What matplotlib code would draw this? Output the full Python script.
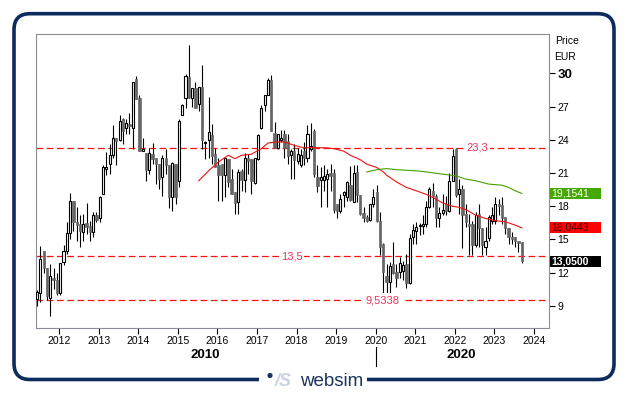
import matplotlib
matplotlib.use("Agg")
import matplotlib.pyplot as plt
import matplotlib.patches as mpatches
import matplotlib.transforms as mtransforms
from matplotlib.lines import Line2D
import numpy as np
import pandas as pd

plt.rcParams['font.family'] = ['Liberation Sans', 'DejaVu Sans']

# ---------------- data (monthly candles, EUR) ----------------
first_month = "2011-06"

opens = [
    9.6, 10.2, 14.0, 12.4, 9.7, 11.5, 11.3, 10.2, 13.0, 14.0, 15.6, 18.5,
    16.6, 16.4, 15.7, 16.5, 16.2, 15.7, 17.2, 16.9, 19.1, 21.4, 21.8, 22.6,
    24.2, 24.0, 25.9, 25.1, 25.4, 25.1, 29.5, 27.8, 23.0, 22.8, 21.3, 22.7,
    22.4, 21.8, 20.6, 22.4, 21.7, 18.8, 21.8, 20.3, 26.2, 27.8, 29.7, 27.8,
    28.7, 27.2, 28.8, 23.7, 24.0, 24.4, 22.7, 21.7, 21.8, 20.8, 22.3, 20.5,
    19.3, 18.4, 21.2, 20.4, 22.4, 22.3, 20.1, 22.3, 25.1, 27.1, 28.0, 29.4,
    24.6, 23.3, 24.0, 24.5, 23.9, 22.6, 23.0, 22.1, 21.7, 23.0, 22.4, 23.2,
    24.8, 20.6, 20.4, 20.4, 20.5, 21.0, 21.0, 18.2, 17.6, 19.0, 18.8, 19.9,
    18.4, 21.1, 19.0, 17.4, 17.0, 16.8, 18.2, 19.3, 16.7, 14.6, 11.7, 11.2,
    12.8, 12.1, 12.1, 12.2, 12.8, 11.1, 15.2, 15.8, 16.2, 16.2, 16.4, 17.9,
    19.4, 18.9, 16.9, 17.4, 18.2, 17.6, 20.3, 23.2, 19.1, 19.6, 17.3, 16.4,
    16.4, 14.5, 17.3, 16.0, 14.3, 15.1, 16.7, 16.7, 18.2, 18.1, 17.0, 16.0,
    15.2, 15.2, 14.9, 14.8]

highs = [
    10.4, 14.4, 14.0, 12.4, 12.8, 12.4, 12.0, 12.9, 14.5, 16.6, 19.2, 18.5,
    17.9, 17.2, 17.3, 18.3, 16.7, 17.5, 17.5, 18.9, 21.7, 22.9, 23.6, 25.3,
    24.2, 26.2, 26.0, 25.9, 26.4, 29.2, 29.8, 28.0, 24.2, 22.8, 23.3, 23.7,
    22.4, 21.8, 22.6, 23.2, 21.7, 22.0, 21.8, 25.9, 27.2, 29.9, 32.55, 28.7,
    29.2, 28.8, 30.75, 23.9, 27.9, 25.4, 23.3, 22.4, 21.8, 22.4, 22.3, 21.4,
    19.3, 21.4, 21.4, 22.8, 22.7, 22.3, 22.4, 24.5, 27.1, 28.0, 29.6, 29.85,
    25.6, 24.5, 24.9, 24.9, 24.5, 23.2, 23.6, 23.3, 23.2, 23.8, 25.3, 25.5,
    25.0, 21.7, 21.5, 21.7, 21.4, 21.8, 21.4, 18.2, 19.1, 19.4, 20.3, 21.6,
    21.7, 21.7, 19.0, 17.9, 17.2, 18.2, 19.6, 19.9, 17.5, 14.7, 12.8, 13.0,
    14.8, 12.8, 13.4, 13.1, 13.7, 15.5, 16.4, 16.6, 16.5, 17.2, 18.5, 19.7,
    20.1, 19.1, 17.9, 19.1, 18.9, 21.0, 23.2, 23.3, 20.5, 19.9, 18.2, 17.3,
    16.7, 17.5, 18.2, 16.0, 16.1, 17.2, 17.9, 18.8, 18.7, 18.8, 17.0, 16.0,
    15.7, 15.2, 14.9, 14.8]

lows = [
    9.0, 9.4, 12.0, 9.5, 8.1, 10.5, 10.0, 10.0, 12.7, 13.7, 15.0, 15.8,
    14.9, 14.3, 14.9, 15.5, 14.9, 15.2, 16.6, 16.6, 19.1, 20.8, 20.9, 22.4,
    21.7, 23.9, 23.6, 24.5, 24.5, 23.2, 27.7, 23.0, 23.0, 20.3, 20.9, 21.8,
    20.0, 19.6, 18.9, 20.9, 17.8, 17.6, 18.2, 19.7, 26.2, 26.9, 27.8, 27.0,
    26.9, 26.6, 23.2, 22.3, 22.4, 21.8, 21.5, 18.5, 18.5, 18.8, 19.7, 19.1,
    17.3, 17.3, 19.4, 19.3, 20.9, 19.1, 20.0, 22.2, 25.0, 26.6, 28.0, 24.8,
    23.3, 23.2, 23.8, 22.4, 21.8, 20.5, 20.5, 21.8, 21.5, 21.7, 22.0, 23.0,
    20.6, 19.3, 17.9, 19.4, 17.9, 19.4, 17.4, 16.9, 17.4, 17.9, 18.5, 18.5,
    18.4, 18.4, 17.2, 16.6, 16.6, 16.7, 17.9, 16.6, 13.6, 9.9, 10.1, 10.0,
    11.9, 10.7, 11.5, 11.3, 10.6, 11.0, 14.6, 14.6, 15.4, 15.5, 16.1, 17.8,
    17.9, 16.1, 16.1, 17.2, 17.2, 17.5, 20.3, 18.8, 17.3, 14.2, 16.1, 13.6,
    13.6, 14.3, 14.3, 13.6, 13.6, 14.9, 16.4, 16.4, 17.2, 16.4, 15.5, 14.6,
    14.6, 14.3, 13.9, 12.9]

closes = [
    10.3, 13.2, 12.4, 9.9, 11.7, 11.3, 10.2, 12.9, 14.0, 15.6, 18.5, 16.6,
    16.3, 15.8, 16.4, 16.1, 15.7, 17.2, 16.8, 18.8, 21.5, 21.5, 22.6, 24.2,
    23.9, 25.7, 24.8, 25.5, 25.2, 29.2, 27.7, 23.0, 23.2, 21.3, 22.8, 22.3,
    21.8, 20.5, 22.4, 21.7, 18.8, 21.9, 18.8, 25.7, 27.1, 29.8, 27.8, 28.7,
    26.9, 28.8, 24.0, 23.8, 24.7, 22.5, 21.5, 20.8, 20.8, 22.4, 20.2, 19.1,
    18.3, 21.1, 20.4, 22.4, 22.1, 20.3, 22.4, 24.4, 26.9, 28.0, 29.4, 24.8,
    23.3, 24.5, 24.2, 23.3, 22.5, 23.0, 22.2, 22.7, 22.6, 22.4, 24.5, 23.4,
    20.9, 19.8, 20.6, 20.7, 20.9, 20.7, 17.7, 17.6, 18.7, 19.3, 20.2, 18.6,
    21.0, 19.0, 17.3, 16.9, 16.7, 18.2, 18.8, 16.7, 14.3, 12.1, 11.2, 12.6,
    12.0, 11.5, 12.9, 12.7, 11.1, 15.1, 15.9, 16.1, 16.3, 16.4, 17.9, 19.6,
    18.9, 16.9, 17.4, 17.7, 17.6, 20.3, 22.5, 19.0, 19.6, 17.2, 16.6, 16.2,
    14.5, 17.2, 16.0, 14.5, 14.9, 17.0, 17.2, 18.2, 18.0, 16.9, 16.0, 15.2,
    15.0, 14.9, 14.7, 13.05]

# moving averages
ma_red_months = ["2015-07", "2015-10", "2016-01", "2016-04", "2016-06", "2016-08",
                 "2016-11", "2017-02", "2017-04", "2017-06", "2017-09", "2017-12",
                 "2018-03", "2018-06", "2018-10", "2018-12", "2019-03", "2019-05",
                 "2019-08", "2019-10", "2020-01", "2020-03", "2020-04", "2020-07",
                 "2020-10", "2021-01", "2021-04", "2021-06", "2021-09", "2021-12",
                 "2022-02", "2022-04", "2022-07", "2022-10", "2023-01", "2023-04",
                 "2023-07", "2023-09"]
ma_red_values = [20.3, 21.2, 22.0, 22.6, 22.3, 22.6, 22.7, 23.2, 23.7, 23.8, 23.8, 23.5,
                 23.27, 23.3, 23.27, 23.2, 22.97, 22.6, 22.2, 21.8, 21.5, 21.1, 20.8, 20.2,
                 19.7, 19.4, 19.07, 18.8, 18.3, 18.0, 17.9, 17.7, 17.2, 16.9, 16.7, 16.6,
                 16.3, 16.0443]

ma_green_months = ["2019-10", "2020-01", "2020-04", "2020-07", "2021-01", "2021-04",
                   "2021-09", "2022-01", "2022-04", "2022-07", "2022-11", "2023-03",
                   "2023-05", "2023-07", "2023-09"]
ma_green_values = [21.1, 21.3, 21.4, 21.3, 21.2, 21.1, 20.9, 20.75, 20.45, 20.3,
                   20.0, 19.9, 19.7, 19.4, 19.1541]

levels = [23.3, 13.5, 9.5338]
level_labels = ["23,3", "13,5", "9,5338"]
level_label_x = [2022.57, 2017.88, 2020.18]

value_boxes = [19.1541, 16.0443, 13.05]
value_box_labels = ["19,1541", "16,0443", "13,0500"]

y_ticks = [9, 12, 15, 18, 21, 24, 27, 30]
x_years = list(range(2012, 2025))

# ---------------- figure ----------------
W, H = 629, 395
fig = plt.figure(figsize=(W / 100, H / 100), dpi=100)
fig.patch.set_facecolor("white")


def fx(px):
    return px / W


def fy(py):
    return 1 - py / H


def to_x(periods):
    return np.array([p.year + (p.month - 1 + 0.3) / 12 for p in periods])


months = pd.period_range(first_month, periods=len(closes), freq="M")
xs = to_x(months)
o = np.array(opens); h = np.array(highs); l = np.array(lows); c = np.array(closes)

ax = fig.add_axes([fx(35.5), fy(328), fx(549) - fx(35.5), fy(34) - fy(328)])
ax.set_xlim(2011.40, 2024.38)
ax.set_ylim(7.01, 33.55)

# dashed support / resistance lines
for v, lbl, lx in zip(levels, level_labels, level_label_x):
    ax.axhline(v, color="#ff1010", lw=0.9, ls=(0, (5.4, 2.8)), zorder=2)
    ax.text(lx, v, lbl, ha="center", va="center", fontsize=8, color="#f5325a",
            zorder=7, bbox=dict(facecolor="white", edgecolor="none", pad=1.2))

# candles
ax.vlines(xs, l, h, colors="black", lw=0.8, zorder=3)
up = c >= o
dn = ~up
ax.bar(xs[up], (c - o)[up], bottom=o[up], width=0.052, color="white",
       edgecolor="black", linewidth=0.8, zorder=4)
ax.bar(xs[dn], (o - c)[dn], bottom=c[dn], width=0.06, color="#666666",
       edgecolor="#666666", linewidth=0.5, zorder=4)

# moving averages
ax.plot(to_x(pd.PeriodIndex(ma_red_months, freq="M")), ma_red_values,
        color="#ee1111", lw=0.8, zorder=5)
ax.plot(to_x(pd.PeriodIndex(ma_green_months, freq="M")), ma_green_values,
        color="#44a000", lw=0.8, zorder=5)

# axes styling
for s in ax.spines.values():
    s.set_color("#8c8c9c")
    s.set_linewidth(0.8)

ax.yaxis.tick_right()
ax.set_yticks(y_ticks)
ax.set_yticklabels([str(t) for t in y_ticks])
ax.tick_params(axis="y", which="both", direction="out", length=4, width=0.8,
               pad=2, labelsize=7.5, colors="black", left=False)
for t in ax.get_yticklabels():
    if t.get_text() == "30":
        t.set_fontsize(9.5)
        t.set_fontweight("bold")

ax.set_xticks(x_years)
ax.set_xticklabels([str(y) for y in x_years])
ax.tick_params(axis="x", direction="out", length=4, width=0.8, pad=2,
               labelsize=7.5, colors="black")

# value boxes on right edge
trans = mtransforms.blended_transform_factory(ax.transAxes, ax.transData)
axw = 549 - 35.5
box_styles = [("#44a800", "white", "normal"),
              ("#ff0000", "#3a0000", "normal"),
              ("#000000", "white", "bold")]
for v, lbl, (fc, tc, fw) in zip(value_boxes, value_box_labels, box_styles):
    rect = mpatches.Rectangle((1 + 0.5 / axw, v - 0.5), 51 / axw, 1.0,
                              transform=trans, facecolor=fc, edgecolor="none",
                              clip_on=False, zorder=10)
    ax.add_patch(rect)
    ax.text(1 + 2.5 / axw, v, lbl, transform=trans, ha="left", va="center",
            fontsize=7.5, color=tc, fontweight=fw, zorder=11, clip_on=False)

# Price / EUR labels
fig.text(fx(555), fy(41.5), "Price", ha="left", va="center", fontsize=7.5)
fig.text(fx(554), fy(57), "EUR", ha="left", va="center", fontsize=7.5)

# decade labels and separator
fig.text(fx(205), fy(355), "2010", ha="center", va="center", fontsize=9.5,
         fontweight="bold")
fig.text(fx(461), fy(355), "2020", ha="center", va="center", fontsize=9.5,
         fontweight="bold")
fig.add_artist(Line2D([fx(375.6), fx(375.6)], [fy(347), fy(366)],
                      transform=fig.transFigure, color="black", lw=0.8))

# rounded frame
inch = fig.dpi_scale_trans
frame = mpatches.FancyBboxPatch((14 / 100, (H - 379.5) / 100), 600 / 100, 365.8 / 100,
                                boxstyle="round,pad=0,rounding_size=0.16",
                                transform=inch, fill=False, edgecolor="#0d2b5c",
                                linewidth=2.6, zorder=1)
fig.add_artist(frame)
gap = mpatches.Rectangle((259 / 100, (H - 385) / 100), 108 / 100, 11 / 100,
                         transform=inch, facecolor="white", edgecolor="none", zorder=2)
fig.add_artist(gap)

# logo
fig.add_artist(mpatches.Circle((270 / 100, (H - 375.5) / 100), 2.6 / 100,
                               transform=inch, facecolor="#1b3360",
                               edgecolor="none", zorder=3))
fig.text(fx(275), fy(381), "/S", ha="left", va="center", fontsize=13,
         fontstyle="italic", fontweight="bold", color="#c9d3e0", zorder=3)
fig.text(fx(300), fy(381), "websim", ha="left", va="center", fontsize=13.5,
         color="#1b3360", zorder=3)

fig.savefig("out.png", dpi=100)
